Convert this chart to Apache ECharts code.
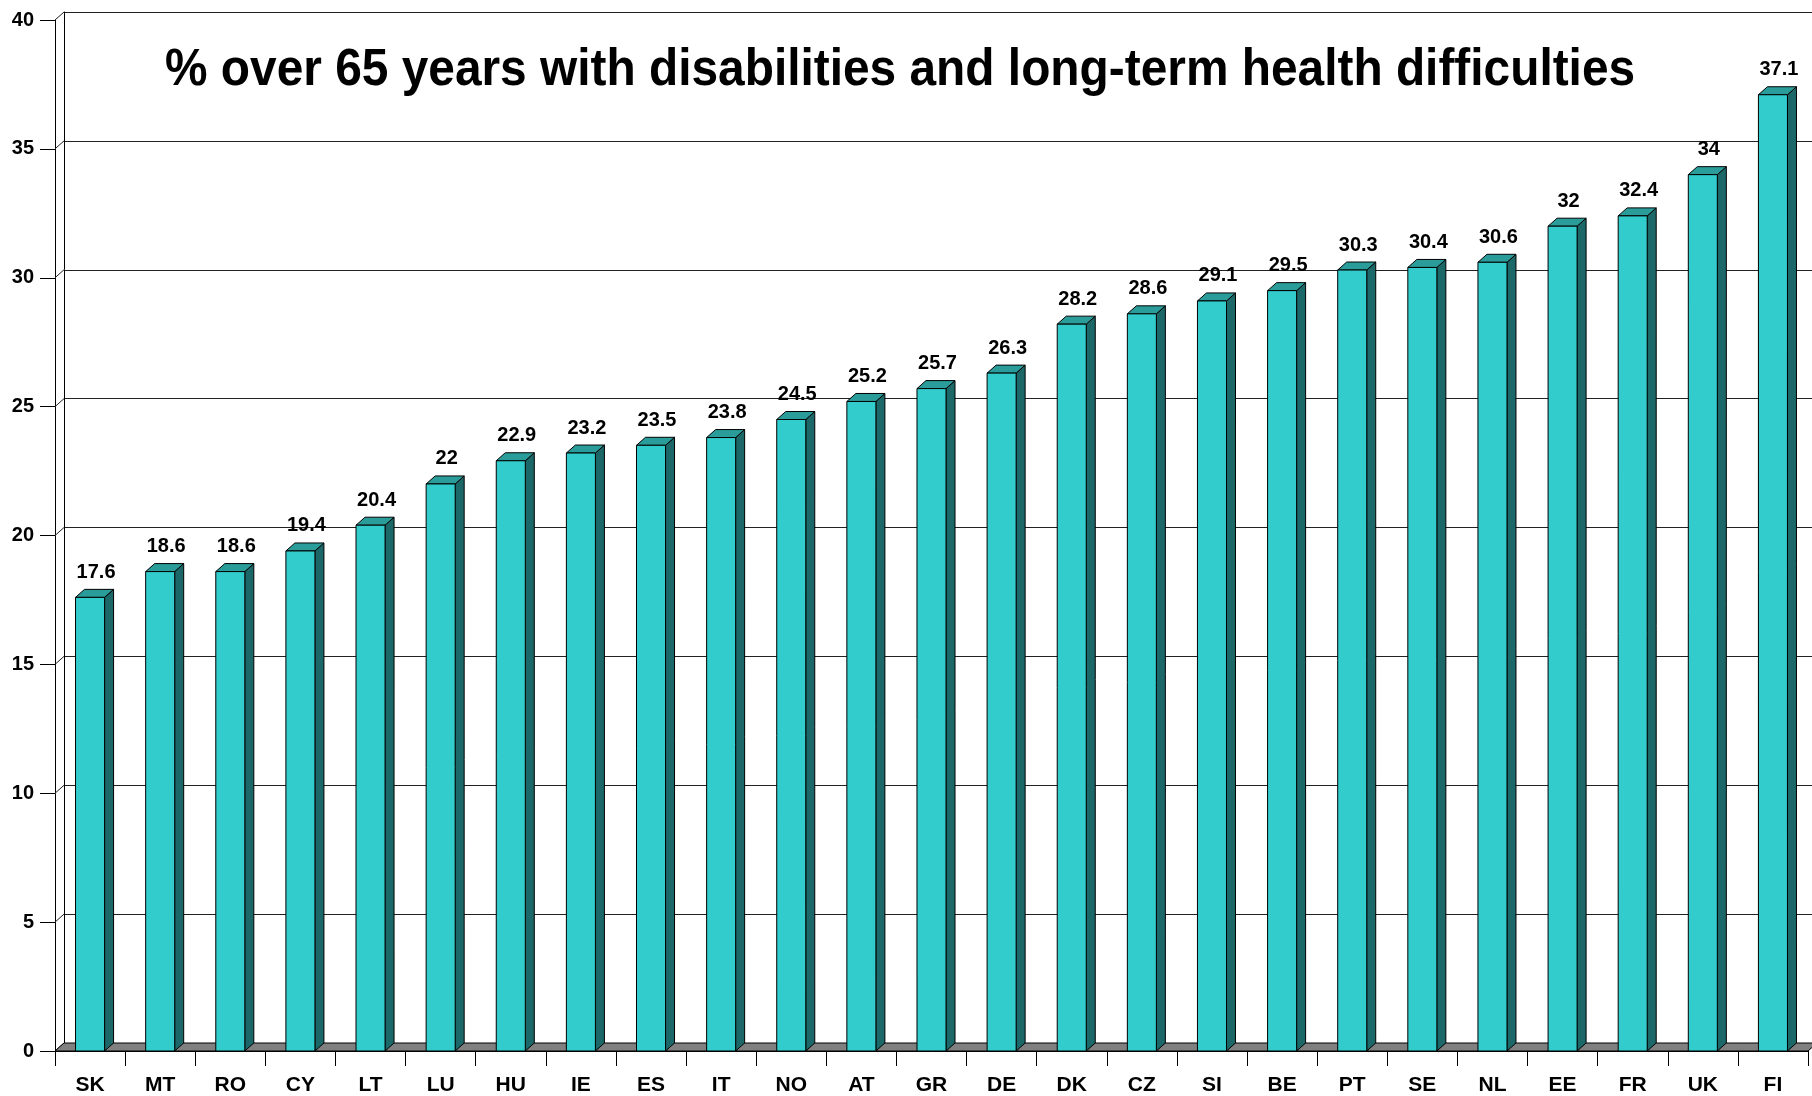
<!DOCTYPE html>
<html>
<head>
<meta charset="utf-8">
<script src="https://cdn.jsdelivr.net/npm/echarts@6/dist/echarts.min.js"></script>
<style>
  html, body { margin: 0; padding: 0; background: #fff; }
  #chart { width: 1812px; height: 1096px; }
</style>
</head>
<body>
<div id="chart"></div>
<script>
// Share of people over 65 with disabilities / long-term health difficulties, by country
const countries = ['SK','MT','RO','CY','LT','LU','HU','IE','ES','IT','NO','AT','GR','DE','DK','CZ','SI','BE','PT','SE','NL','EE','FR','UK','FI'];
const shares = [17.6, 18.6, 18.6, 19.4, 20.4, 22, 22.9, 23.2, 23.5, 23.8, 24.5, 25.2, 25.7, 26.3, 28.2, 28.6, 29.1, 29.5, 30.3, 30.4, 30.6, 32, 32.4, 34, 37.1];
const yTicks = [0, 5, 10, 15, 20, 25, 30, 35, 40];
const titleText = '% over 65 years with disabilities and long-term health difficulties';

// depth offset of the pseudo-3D box (pixels)
const DX = 9, DY = -8;
const FONT = '"Liberation Sans", Arial, Helvetica, sans-serif';

const chart = echarts.init(document.getElementById('chart'), null, { renderer: 'canvas' });

function renderBar(params, api) {
  const idx = api.value(0);
  const val = api.value(1);
  const top = api.coord([idx, val]);
  const base = api.coord([idx, 0]);
  const band = api.size([1, 0])[0];
  const w = band * 0.414;
  const x0 = top[0] - w / 2;
  const yT = top[1], yB = base[1];
  const edge = { stroke: '#000', lineWidth: 1 };
  return {
    type: 'group',
    children: [
      { type: 'polygon', shape: { points: [[x0 + w, yT], [x0 + w + DX, yT + DY], [x0 + w + DX, yB + DY], [x0 + w, yB]] },
        style: Object.assign({ fill: '#1C6868' }, edge) },
      { type: 'polygon', shape: { points: [[x0, yT], [x0 + w, yT], [x0 + w + DX, yT + DY], [x0 + DX, yT + DY]] },
        style: Object.assign({ fill: '#2A9D9A' }, edge) },
      { type: 'rect', shape: { x: x0, y: yT, width: w, height: yB - yT },
        style: Object.assign({ fill: '#33CCCC' }, edge) },
      { type: 'text', x: top[0] + 6, y: yT - 25,
        style: { text: String(val), font: 'bold 20px ' + FONT, fill: '#000', align: 'center', verticalAlign: 'middle' } }
    ]
  };
}

function renderFloor(params, api) {
  const cs = params.coordSys;
  const y0 = api.coord([0, 0])[1];
  return {
    type: 'polygon',
    shape: { points: [[cs.x, y0], [cs.x + cs.width, y0], [cs.x + cs.width + DX, y0 + DY], [cs.x + DX, y0 + DY]] },
    style: { fill: '#808080', stroke: '#000', lineWidth: 1 }
  };
}

function renderWallEdge(params, api) {
  const cs = params.coordSys;
  const y = api.coord([0, api.value(1)])[1];
  return {
    type: 'line',
    shape: { x1: cs.x, y1: y, x2: cs.x + DX, y2: y + DY },
    style: { stroke: '#222', lineWidth: 1 }
  };
}

const option = {
  backgroundColor: '#fff',
  animation: false,
  graphic: [{
    type: 'text', x: 165, y: 71, scaleX: 0.92,
    style: { text: titleText, font: 'bold 52px ' + FONT, fill: '#000', align: 'left', verticalAlign: 'middle' },
    z: 10
  }],
  grid: [
    { left: 55, right: 4, top: 20, bottom: 45 },
    { left: 55 + DX, right: 4 - DX, top: 20 + DY, bottom: 45 - DY }
  ],
  xAxis: [
    {
      type: 'category', gridIndex: 0, data: countries, boundaryGap: true,
      axisLine: { show: true, lineStyle: { color: '#000', width: 1 } },
      axisTick: { show: true, length: 15, interval: 0, lineStyle: { color: '#000' } },
      axisLabel: { interval: 0, margin: 24, color: '#000', fontWeight: 'bold', fontSize: 21, fontFamily: FONT },
      splitLine: { show: false }
    },
    { type: 'value', gridIndex: 1, show: false, min: 0, max: 1 }
  ],
  yAxis: [
    {
      type: 'value', gridIndex: 0, min: 0, max: 40, interval: 5,
      axisLine: { show: true, lineStyle: { color: '#000', width: 1 } },
      axisTick: { show: true, length: 15, lineStyle: { color: '#000' } },
      axisLabel: { margin: 21, color: '#000', fontWeight: 'bold', fontSize: 20, fontFamily: FONT },
      splitLine: { show: false }
    },
    {
      type: 'value', gridIndex: 1, min: 0, max: 40, interval: 5,
      axisLine: { show: true, lineStyle: { color: '#000', width: 1 } },
      axisTick: { show: false },
      axisLabel: { show: false },
      splitLine: { show: true, lineStyle: { color: '#222', width: 1 } }
    }
  ],
  series: [
    {
      type: 'custom', xAxisIndex: 0, yAxisIndex: 0, z: 1, silent: true,
      renderItem: renderWallEdge,
      data: yTicks.map(v => [0, v])
    },
    {
      type: 'custom', xAxisIndex: 0, yAxisIndex: 0, z: 2, silent: true,
      renderItem: renderFloor,
      data: [[0, 0]]
    },
    {
      type: 'custom', xAxisIndex: 0, yAxisIndex: 0, z: 3,
      renderItem: renderBar,
      data: shares.map((v, i) => [i, v])
    }
  ]
};

chart.setOption(option);
</script>
</body>
</html>
